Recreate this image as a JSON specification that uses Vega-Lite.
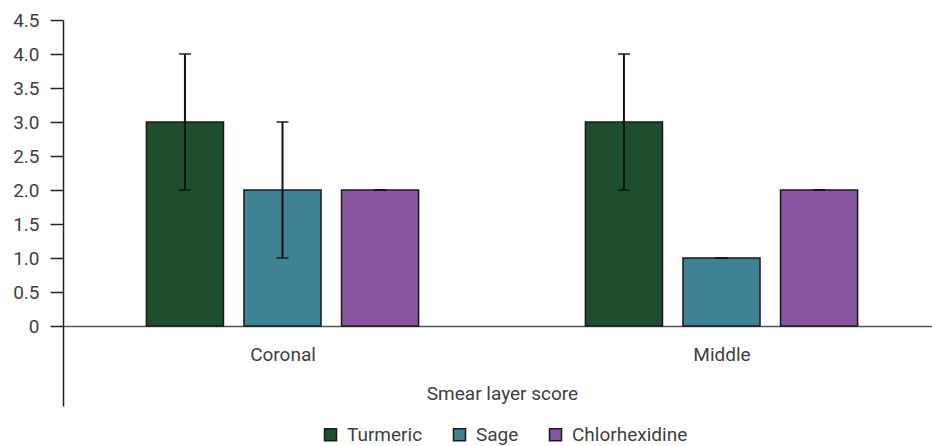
{
  "$schema": "https://vega.github.io/schema/vega-lite/v6.json",
  "autosize": "none",
  "width": 869,
  "height": 306,
  "padding": {"left": 63, "top": 20, "right": 0, "bottom": 120},
  "background": "white",
  "config": {
    "font": "Roboto",
    "view": {"stroke": null},
    "axis": {"labelFont": "Roboto", "titleFont": "Roboto", "labelFontSize": 19, "titleFontSize": 19, "labelColor": "#404040", "titleColor": "#404040", "titleFontWeight": "normal", "grid": false},
    "axisY": {"domainColor": "#222222", "domainWidth": 1.5, "tickColor": "#222222", "tickWidth": 1.5, "tickSize": 13, "labelPadding": 11, "labelOverlap": false, "title": null}
  },
  "data": {
    "values": [
      {"region": "Coronal", "treatment": "Turmeric", "mean": 3, "lo": 2, "hi": 4},
      {"region": "Coronal", "treatment": "Sage", "mean": 2, "lo": 1, "hi": 3},
      {"region": "Coronal", "treatment": "Chlorhexidine", "mean": 2, "lo": 2, "hi": 2},
      {"region": "Middle", "treatment": "Turmeric", "mean": 3, "lo": 2, "hi": 4},
      {"region": "Middle", "treatment": "Sage", "mean": 1, "lo": 1, "hi": 1},
      {"region": "Middle", "treatment": "Chlorhexidine", "mean": 2, "lo": 2, "hi": 2}
    ]
  },
  "encoding": {
    "x": {
      "field": "region", "type": "nominal", "title": "Smear layer score",
      "scale": {"range": [0, 878], "paddingInner": 0.38, "paddingOuter": 0.19},
      "axis": {
        "labelAngle": 0, "domainColor": "#555555", "domainWidth": 1.5,
        "tickSize": 80, "tickColor": "#222222", "tickWidth": 1.5, "tickOffset": -219.5, "labelOffset": 219.5,
        "tickOpacity": {"condition": {"test": "datum.value == 'Coronal'", "value": 1}, "value": 0},
        "labelPadding": -61, "titleY": 67, "titleBaseline": "middle"
      }
    },
    "xOffset": {
      "field": "treatment", "type": "nominal",
      "sort": ["Turmeric", "Sage", "Chlorhexidine"],
      "scale": {"paddingInner": 0.21, "paddingOuter": 0}
    }
  },
  "layer": [
    {
      "mark": {"type": "bar", "stroke": "#1a1a1a", "strokeWidth": 1.5},
      "encoding": {
        "y": {
          "field": "mean", "type": "quantitative", "title": null,
          "scale": {"domain": [0, 4.5], "nice": false},
          "axis": {
            "values": [0, 0.5, 1, 1.5, 2, 2.5, 3, 3.5, 4, 4.5],
            "labelExpr": "datum.value == 0 ? '0' : format(datum.value, '.1f')"
          }
        },
        "color": {
          "field": "treatment", "type": "nominal",
          "sort": ["Turmeric", "Sage", "Chlorhexidine"],
          "scale": {"domain": ["Turmeric", "Sage", "Chlorhexidine"], "range": ["#1f4e2c", "#3f8294", "#8855a0"]},
          "legend": {
            "title": null, "orient": "none", "legendX": 258, "legendY": 405, "direction": "horizontal",
            "symbolType": "square", "symbolSize": 144, "symbolStrokeColor": "#1a1a1a", "symbolStrokeWidth": 1.5,
            "labelFontSize": 19, "labelFont": "Roboto", "labelColor": "#404040",
            "columnPadding": 27, "labelOffset": 7, "padding": 0
          }
        }
      }
    },
    {
      "mark": {"type": "rule", "color": "#111111", "strokeWidth": 2},
      "encoding": {
        "y": {"field": "lo", "type": "quantitative", "axis": {"values": [0, 0.5, 1, 1.5, 2, 2.5, 3, 3.5, 4, 4.5], "labelExpr": "datum.value == 0 ? '0' : format(datum.value, '.1f')"}},
        "y2": {"field": "hi"}
      }
    },
    {
      "mark": {"type": "tick", "color": "#111111", "thickness": 2, "size": 12},
      "encoding": {
        "y": {"field": "lo", "type": "quantitative", "axis": {"values": [0, 0.5, 1, 1.5, 2, 2.5, 3, 3.5, 4, 4.5], "labelExpr": "datum.value == 0 ? '0' : format(datum.value, '.1f')"}}
      }
    },
    {
      "mark": {"type": "tick", "color": "#111111", "thickness": 2, "size": 12},
      "encoding": {
        "y": {"field": "hi", "type": "quantitative", "axis": {"values": [0, 0.5, 1, 1.5, 2, 2.5, 3, 3.5, 4, 4.5], "labelExpr": "datum.value == 0 ? '0' : format(datum.value, '.1f')"}}
      }
    }
  ]
}
